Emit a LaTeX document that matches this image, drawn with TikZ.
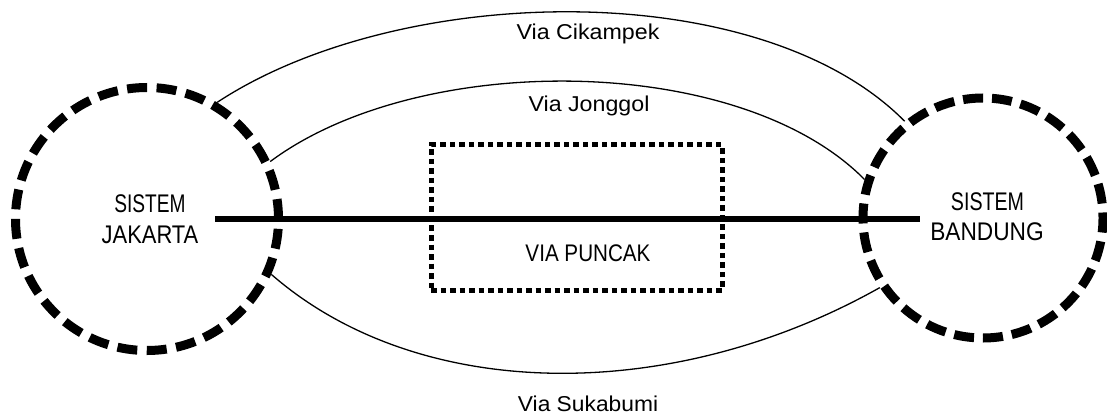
\documentclass[tikz,border=0pt]{standalone}
\usepackage{fontspec}
\setmainfont{Liberation Sans}
\tikzset{
  sysringL/.style={circle, draw, line width=9pt, dash pattern=on 20pt off 9.5pt, minimum size=263pt, inner sep=0pt},
  sysringR/.style={circle, draw, line width=9pt, dash pattern=on 20pt off 9pt, dash phase=14.5pt, minimum size=240pt, inner sep=0pt},
  route/.style={line width=1.3pt},
  mainroad/.style={line width=6.5pt},
  puncakbox/.style={draw, rectangle, line width=5pt, dash pattern=on 5.5pt off 4pt, minimum width=291pt, minimum height=145pt, inner sep=0pt},
  syslabel/.style={anchor=base, inner sep=0pt, font=\fontsize{25.5}{30}\selectfont},
  roadlabel/.style={anchor=base, inner sep=0pt, font=\fontsize{21.5}{26}\selectfont},
}
\begin{document}
\begin{tikzpicture}[x=1pt, y=-1pt]
\useasboundingbox (0,0) rectangle (1107,414);
\node[sysringL] (J) at (147,219) {};
\node[sysringR] (B) at (983,218) {};
\node[puncakbox] (P) at (576.5,217.5) {};
\coordinate (h1) at (215,219);
\coordinate (h2) at (920,219);
\draw[mainroad] (h1) -- (h2);
% routes
\draw[route] (J.59.3) .. controls (400,-18) and (760,-25) .. (B.129.8);
\draw[route] (J.25.5) .. controls (420,50) and (740,53) .. (B.162.6);
\draw[route] (J.-24.7) .. controls (420,404) and (673,404) .. (B.214.3);
% labels
\node[syslabel] (j1) at (150,212) {\scalebox{0.75}[1]{SISTEM}};
\node[syslabel] (j2) at (150,243) {\scalebox{0.86}[1]{JAKARTA}};
\node[syslabel] (b1) at (987.5,210) {\scalebox{0.77}[1]{SISTEM}};
\node[syslabel] (b2) at (987,240) {\scalebox{0.89}[1]{BANDUNG}};
\node[syslabel, font=\fontsize{24}{28}\selectfont] (pl) at (588,261.7) {\scalebox{0.86}[1]{VIA PUNCAK}};
\node[roadlabel] (lc) at (588,39.5) {\scalebox{1.08}[1]{Via Cikampek}};
\node[roadlabel] (lj) at (589,111.5) {\scalebox{1.08}[1]{Via Jonggol}};
\node[roadlabel] (ls) at (588,411.5) {\scalebox{1.06}[1]{Via Sukabumi}};
\end{tikzpicture}
\end{document}
